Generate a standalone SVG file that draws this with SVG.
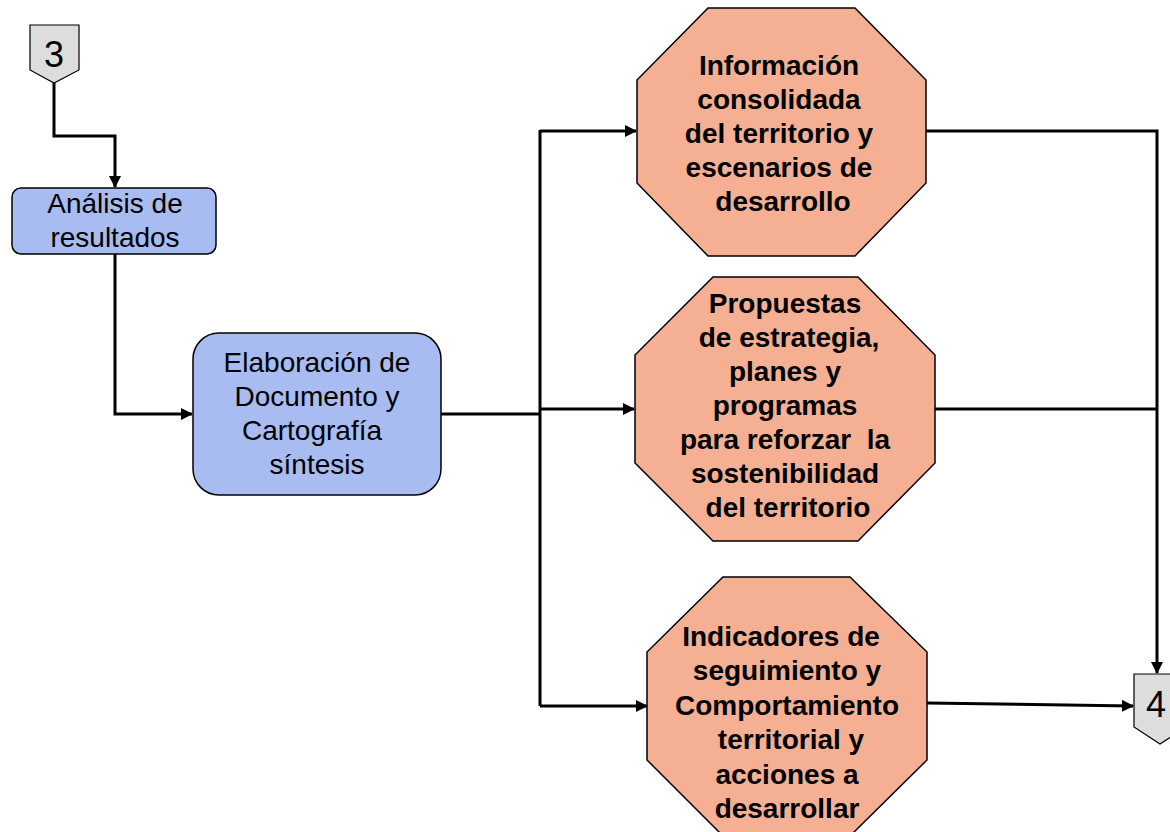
<svg xmlns="http://www.w3.org/2000/svg" width="1170" height="832" viewBox="0 0 1170 832">
<defs>
<style>
.proc{fill:#A9BCF2;stroke:#000;stroke-width:1.5}
.oct{fill:#F5B093;stroke:#000;stroke-width:1.5}
.off{fill:#DDDDDD;stroke:#000;stroke-width:1.2}
.t{font-family:"Liberation Sans",Arial,sans-serif;font-size:28px;fill:#000;text-anchor:middle}
.b{font-weight:bold}
.num{font-family:"Liberation Sans",Arial,sans-serif;font-size:36px;fill:#000;text-anchor:middle}
.ln{fill:none;stroke:#000;stroke-width:3}
</style>
<marker id="arr" markerWidth="12" markerHeight="12" refX="11" refY="6" orient="auto" markerUnits="userSpaceOnUse">
<path d="M0,0 L12,6 L0,12 Z" fill="#000"/>
</marker>
</defs>
<rect width="1170" height="832" fill="#fff"/>
<g id="connectors">
<polyline class="ln" points="54,83 54,136 115,136 115,187" marker-end="url(#arr)"/>
<polyline class="ln" points="115,254 115,414 192,414" marker-end="url(#arr)"/>
<polyline class="ln" points="441,414 541,414"/>
<polyline class="ln" points="540,130 540,706"/>
<polyline class="ln" points="540,131 636,131" marker-end="url(#arr)"/>
<polyline class="ln" points="540,409 634,409" marker-end="url(#arr)"/>
<polyline class="ln" points="540,706 647,706" marker-end="url(#arr)"/>
<polyline class="ln" points="926,131 1157,131 1157,673" marker-end="url(#arr)"/>
<polyline class="ln" points="934,409 1157,409"/>
<polyline class="ln" points="927,703 1133,706" marker-end="url(#arr)"/>
</g>
<g id="off3">
<polygon class="off" points="30,25 79,25 79,70 54,83 30,70"/>
<text class="num" x="54" y="67" font-size="34">3</text>
</g>
<g id="off4">
<polygon class="off" points="1134,674 1186,674 1186,727 1160,744 1134,727"/>
<text class="num" x="1156" y="717">4</text>
</g>
<g id="analisis">
<rect class="proc" x="12" y="188" width="204" height="66" rx="9"/>
<text class="t" x="115" y="213">Análisis de</text>
<text class="t" x="115" y="247">resultados</text>
</g>
<g id="elaboracion">
<rect class="proc" x="193" y="333" width="248" height="162" rx="26"/>
<text class="t" x="317" y="372">Elaboración de</text>
<text class="t" x="317" y="406">Documento y</text>
<text class="t" x="312" y="440">Cartografía</text>
<text class="t" x="317" y="474">síntesis</text>
</g>
<g id="informacion">
<polygon class="oct" points="708,8 855,8 926,80 926,183 855,256 708,256 637,183 637,80"/>
<text class="t b" x="779" y="75">Información</text>
<text class="t b" x="779" y="109">consolidada</text>
<text class="t b" x="779" y="143">del territorio y</text>
<text class="t b" x="779" y="177">escenarios de</text>
<text class="t b" x="783" y="211">desarrollo</text>
</g>
<g id="propuestas">
<polygon class="oct" points="713,277 858,277 935,355 935,463 858,541 713,541 635,463 635,355"/>
<text class="t b" x="785" y="313">Propuestas</text>
<text class="t b" x="789" y="347">de estrategia,</text>
<text class="t b" x="785" y="381">planes y</text>
<text class="t b" x="785" y="415">programas</text>
<text class="t b" x="785" y="449" xml:space="preserve">para reforzar  la</text>
<text class="t b" x="785" y="483">sostenibilidad</text>
<text class="t b" x="788" y="517">del territorio</text>
</g>
<g id="indicadores">
<polygon class="oct" points="723,577 850,577 927,652 927,760 850,836 723,836 647,760 647,652"/>
<text class="t b" x="781" y="646">Indicadores de</text>
<text class="t b" x="787" y="680">seguimiento y</text>
<text class="t b" x="787" y="715">Comportamiento</text>
<text class="t b" x="791" y="749">territorial y</text>
<text class="t b" x="787" y="784">acciones a</text>
<text class="t b" x="787" y="818">desarrollar</text>
</g>
</svg>
